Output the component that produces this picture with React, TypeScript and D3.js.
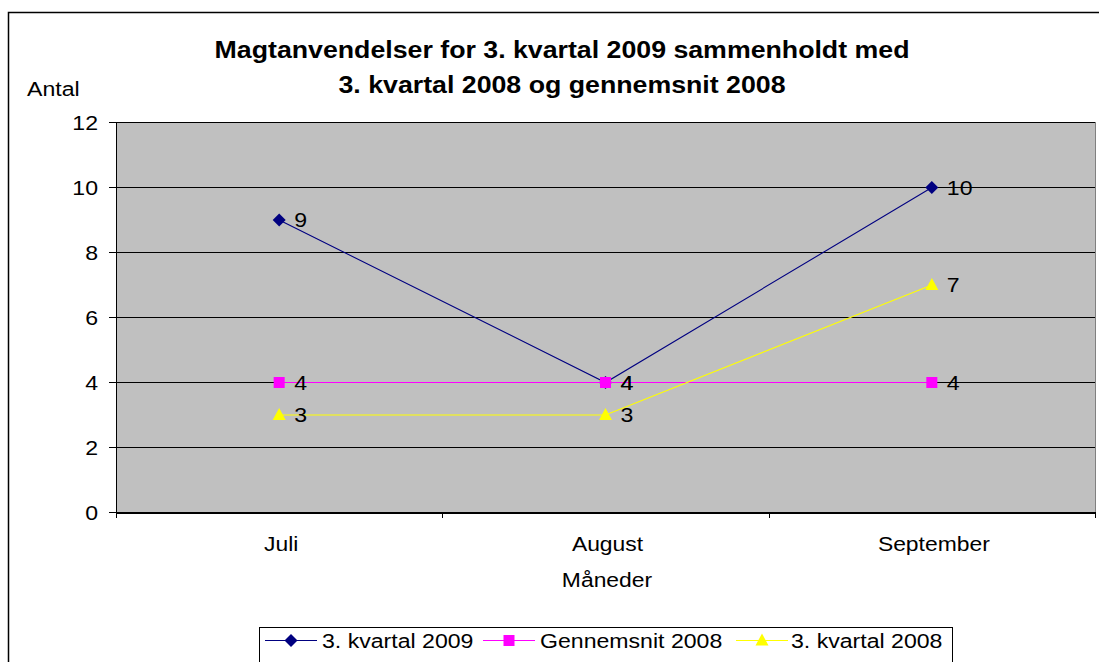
import React from 'react'
import * as d3 from 'd3'

const months = ['Juli', 'August', 'September']
const kvartal2009 = [9, 4, 10]
const gennemsnit2008 = [4, 4, 4]
const kvartal2008 = [3, 3, 7]
const yTicks = [0, 2, 4, 6, 8, 10, 12]

const series = [
  { name: '3. kvartal 2009', values: kvartal2009, color: '#000080', marker: 'diamond' },
  { name: 'Gennemsnit 2008', values: gennemsnit2008, color: '#FF00FF', marker: 'square' },
  { name: '3. kvartal 2008', values: kvartal2008, color: '#FFFF00', marker: 'triangle' },
]

const W = 1099
const H = 662
const plot = { left: 116, right: 1095, top: 122, bottom: 512 }
const font = 'Arial, "Liberation Sans", sans-serif'
const STRETCH = 1.1

// text is a bit wider than plain Arial in the reference, so stretch it horizontally
const T = ({ x, y, size = 21, anchor = 'start', bold = false, dy, children }: any) => (
  <text
    transform={`translate(${x},${y}) scale(${STRETCH},1)`}
    textAnchor={anchor}
    fontSize={size}
    fontWeight={bold ? 'bold' : 'normal'}
    dy={dy}
  >
    {children}
  </text>
)

const Marker = ({ type, x, y, color }: { type: string; x: number; y: number; color: string }) => {
  if (type === 'diamond') {
    return <path d={`M${x},${y - 6.5}L${x + 6.5},${y}L${x},${y + 6.5}L${x - 6.5},${y}Z`} fill={color} />
  }
  if (type === 'square') {
    return <rect x={x - 5.5} y={y - 5.5} width={11} height={11} fill={color} />
  }
  return <path d={`M${x},${y - 7}L${x + 6.5},${y + 5}L${x - 6.5},${y + 5}Z`} fill={color} />
}

export default function App() {
  const x = d3.scaleBand().domain(months).range([plot.left, plot.right])
  const y = d3.scaleLinear().domain([0, 12]).range([plot.bottom, plot.top])
  const cx = (m: string) => (x(m) || 0) + x.bandwidth() / 2
  const line = d3
    .line<number>()
    .x((_, i) => cx(months[i]))
    .y((d) => y(d))

  const legendItems = [
    { lx: 265, tx: 322 },
    { lx: 483, tx: 540 },
    { lx: 736, tx: 791 },
  ]

  return (
    <svg
      width={W}
      height={H}
      style={{ position: 'absolute', left: 0, top: 0, display: 'block', background: '#fff' }}
      fontFamily={font}
    >
      <rect x={8.5} y={12.5} width={W} height={H} fill="#fff" stroke="#000" strokeWidth={1.5} />

      <T x={562} y={58} size={24.3} anchor="middle" bold>
        Magtanvendelser for 3. kvartal 2009 sammenholdt med
      </T>
      <T x={562} y={93} size={24.3} anchor="middle" bold>
        3. kvartal 2008 og gennemsnit 2008
      </T>
      <T x={27} y={96}>Antal</T>

      <rect
        x={plot.left}
        y={plot.top}
        width={plot.right - plot.left}
        height={plot.bottom - plot.top}
        fill="#C0C0C0"
      />
      <g shapeRendering="crispEdges">
        {yTicks.map((t) => (
          <g key={t}>
            <line x1={plot.left} x2={plot.right} y1={y(t) + 0.5} y2={y(t) + 0.5} stroke="#000" strokeWidth={1} />
            <line x1={plot.left - 7} x2={plot.left} y1={y(t) + 0.5} y2={y(t) + 0.5} stroke="#000" />
          </g>
        ))}
        <line x1={plot.left + 0.5} x2={plot.left + 0.5} y1={plot.top} y2={plot.bottom + 6} stroke="#000" />
        <line x1={plot.right + 0.5} x2={plot.right + 0.5} y1={plot.top} y2={plot.bottom} stroke="#808080" />
        <line x1={plot.left} x2={plot.right} y1={plot.bottom + 0.5} y2={plot.bottom + 0.5} stroke="#000" strokeWidth={2} />
        {months.map((m) => (
          <line key={m} x1={(x(m) || 0) + x.bandwidth() + 0.5} x2={(x(m) || 0) + x.bandwidth() + 0.5} y1={plot.bottom} y2={plot.bottom + 6} stroke="#000" />
        ))}
      </g>
      {yTicks.map((t) => (
        <T key={t} x={98} y={y(t)} dy="0.36em" anchor="end">
          {t}
        </T>
      ))}
      {months.map((m) => (
        <T key={m} x={cx(m) + 2} y={551} anchor="middle" size={20.8}>
          {m}
        </T>
      ))}
      <T x={607} y={587} anchor="middle" size={20.8}>
        Måneder
      </T>

      <g transform="translate(0,0.5)">
        {series.map((s) => (
          <g key={s.name}>
            <path d={line(s.values) || ''} fill="none" stroke={s.color} strokeWidth={1.1} />
            {s.values.map((v, i) => (
              <Marker key={i} type={s.marker} x={cx(months[i])} y={y(v)} color={s.color} />
            ))}
          </g>
        ))}
      </g>
      {series.map((s) =>
        s.values.map((v, i) => (
          <T key={s.name + i} x={cx(months[i]) + 15} y={y(v)} dy="0.36em">
            {v}
          </T>
        ))
      )}

      <rect x={259.5} y={627.5} width={693} height={60} fill="#fff" stroke="#000" />
      {series.map((s, i) => (
        <g key={s.name}>
          <line x1={legendItems[i].lx} x2={legendItems[i].lx + 52} y1={640.5} y2={640.5} stroke={s.color} strokeWidth={1.1} />
          <Marker type={s.marker} x={legendItems[i].lx + 26} y={640.5} color={s.color} />
          <T x={legendItems[i].tx} y={640} dy="0.36em">
            {s.name}
          </T>
        </g>
      ))}
    </svg>
  )
}
